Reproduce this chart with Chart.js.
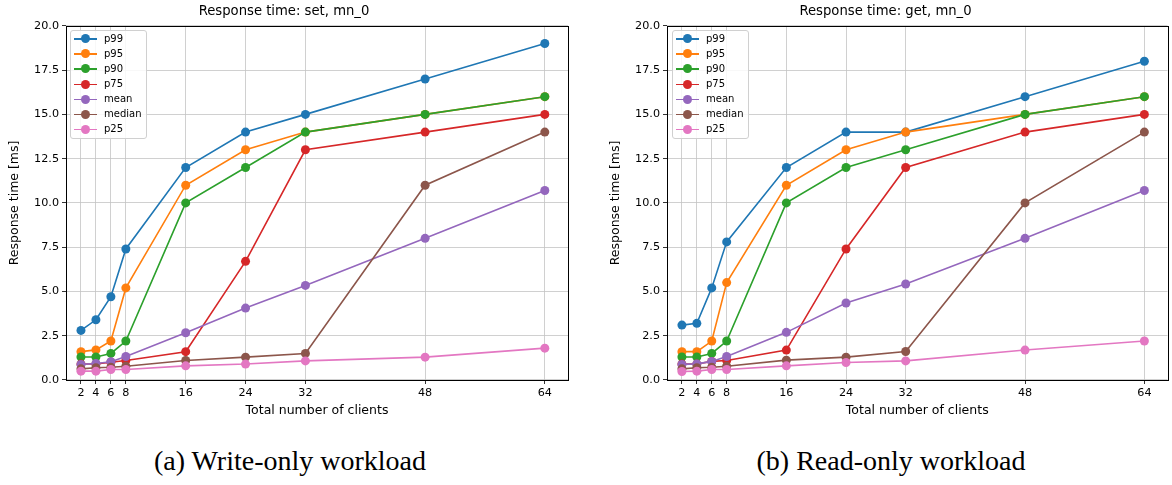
<!DOCTYPE html>
<html lang="en">
<head>
    <meta charset="UTF-8">
    <title>Response time</title>
    <script src="https://cdn.jsdelivr.net/npm/chart.js"></script>
    <style>
        body { margin: 0; background: #fff; width: 1172px; height: 485px; position: relative; overflow: hidden; }
        .panel { position: absolute; top: 0; height: 425px; }
        .legend { position: absolute; background: rgba(255,255,255,0.85); border: 1px solid #d0d0d0; border-radius: 3px;
                  font-family: "DejaVu Sans", sans-serif; font-size: 10px; color: #000; }
        .legend .item { position: absolute; left: 0; height: 14px; width: 100%; }
        .legend .line { position: absolute; left: 3px; width: 23px; height: 1.5px; top: 6.5px; }
        .legend .dot { position: absolute; left: 10px; width: 9px; height: 9px; border-radius: 50%; top: 2.5px; }
        .legend .lbl { position: absolute; left: 33px; top: 0; line-height: 14px; }
        .caption { position: absolute; top: 445px; font-family: "Liberation Serif", serif; font-size: 28px; color: #000;
                   transform: translateX(-50%); white-space: nowrap; }
    </style>
</head>
<body>
    <div class="panel" id="panel-set" style="left:0; width:580px;">
        <canvas id="chartSet" width="580" height="425"></canvas>
        <div class="legend" id="legend-set" style="left:70px; top:30px; width:75px; height:107px;"></div>
    </div>
    <div class="panel" id="panel-get" style="left:601px; width:571px;">
        <canvas id="chartGet" width="571" height="425"></canvas>
        <div class="legend" id="legend-get" style="left:71px; top:30px; width:75px; height:107px;"></div>
    </div>
    <div class="caption" style="left:290px;">(a) Write-only workload</div>
    <div class="caption" style="left:891px;">(b) Read-only workload</div>

    <script>
        // number of clients on the x axis
        const clients = [2, 4, 6, 8, 16, 24, 32, 48, 64];
        const seriesNames = ['p99', 'p95', 'p90', 'p75', 'mean', 'median', 'p25'];
        const seriesColors = ['#1f77b4', '#ff7f0e', '#2ca02c', '#d62728', '#9467bd', '#8c564b', '#e377c2'];

        // set (write-only), values in ms
        const setP99    = [2.8, 3.4, 4.7, 7.4, 12.0, 14.0, 15.0, 17.0, 19.0];
        const setP95    = [1.6, 1.7, 2.2, 5.2, 11.0, 13.0, 14.0, 15.0, 16.0];
        const setP90    = [1.3, 1.3, 1.5, 2.2, 10.0, 12.0, 14.0, 15.0, 16.0];
        const setP75    = [0.9, 0.9, 1.0, 1.1, 1.6, 6.7, 13.0, 14.0, 15.0];
        const setMean   = [0.88, 0.93, 1.03, 1.33, 2.67, 4.06, 5.34, 8.0, 10.7];
        const setMedian = [0.63, 0.69, 0.72, 0.78, 1.1, 1.29, 1.5, 11.0, 14.0];
        const setP25    = [0.5, 0.5, 0.59, 0.59, 0.8, 0.9, 1.08, 1.29, 1.8];

        // get (read-only), values in ms
        const getP99    = [3.1, 3.2, 5.2, 7.8, 12.0, 14.0, 14.0, 16.0, 18.0];
        const getP95    = [1.6, 1.6, 2.2, 5.5, 11.0, 13.0, 14.0, 15.0, 16.0];
        const getP90    = [1.3, 1.3, 1.5, 2.2, 10.0, 12.0, 13.0, 15.0, 16.0];
        const getP75    = [0.9, 0.9, 1.05, 1.1, 1.69, 7.4, 12.0, 14.0, 15.0];
        const getMean   = [0.88, 0.91, 1.05, 1.33, 2.69, 4.35, 5.42, 8.0, 10.7];
        const getMedian = [0.63, 0.69, 0.72, 0.78, 1.12, 1.29, 1.61, 10.0, 14.0];
        const getP25    = [0.48, 0.5, 0.59, 0.59, 0.8, 0.99, 1.08, 1.69, 2.2];

        const yTickStep = 2.5;

        const frame = {
            id: 'frame',
            afterDraw(chart) {
                const a = chart.chartArea, ctx = chart.ctx;
                ctx.save();
                ctx.strokeStyle = '#000';
                ctx.lineWidth = 1;
                ctx.strokeRect(Math.round(a.left) + 0.5, Math.round(a.top) + 0.5,
                               Math.round(a.right - a.left), Math.round(a.bottom - a.top));
                ctx.restore();
            }
        };

        function makeChart(canvasId, legendId, title, series, padRight) {
            const datasets = series.map((vals, i) => ({
                label: seriesNames[i],
                data: clients.map((c, j) => ({ x: c, y: vals[j] })),
                borderColor: seriesColors[i],
                backgroundColor: seriesColors[i],
                pointBackgroundColor: seriesColors[i],
                pointBorderWidth: 0,
                pointRadius: 4.5,
                borderWidth: 1.6,
                tension: 0,
                order: series.length - i
            }));

            new Chart(document.getElementById(canvasId), {
                type: 'line',
                data: { datasets: datasets },
                options: {
                    responsive: false,
                    animation: false,
                    layout: { padding: { left: 0, right: padRight, top: 0, bottom: 5 } },
                    plugins: {
                        legend: { display: false },
                        tooltip: { enabled: false },
                        title: {
                            display: true,
                            text: title,
                            color: '#000',
                            font: { family: 'DejaVu Sans', size: 13.2, weight: 'normal' },
                            padding: { top: 4, bottom: 6 }
                        }
                    },
                    scales: {
                        x: {
                            type: 'linear',
                            min: 0,
                            max: 67.1,
                            afterBuildTicks: s => { s.ticks = clients.map(v => ({ value: v })); },
                            afterFit: s => { s.height = 40; },
                            grid: { color: '#c4c4c4', lineWidth: 0.8, tickColor: '#000', tickLength: 4 },
                            border: { display: false },
                            ticks: { color: '#000', font: { family: 'DejaVu Sans', size: 11.2 }, padding: 2, maxRotation: 0, autoSkip: false },
                            title: {
                                display: true,
                                text: 'Total number of clients',
                                color: '#000',
                                font: { family: 'DejaVu Sans', size: 12.5 },
                                padding: { top: 0, bottom: 1.5 }
                            }
                        },
                        y: {
                            min: 0,
                            max: 20,
                            afterFit: s => { s.width = 66; },
                            grid: { color: '#c4c4c4', lineWidth: 0.8, tickColor: '#000', tickLength: 4 },
                            border: { display: false },
                            ticks: {
                                stepSize: yTickStep,
                                color: '#000',
                                font: { family: 'DejaVu Sans', size: 11.2 },
                                padding: 3,
                                callback: v => v.toFixed(1)
                            },
                            title: {
                                display: true,
                                text: 'Response time [ms]',
                                color: '#000',
                                font: { family: 'DejaVu Sans', size: 12.5 },
                                padding: { top: 7, bottom: 0 }
                            }
                        }
                    }
                },
                plugins: [frame]
            });

            const legend = document.getElementById(legendId);
            seriesNames.forEach((name, i) => {
                const item = document.createElement('div');
                item.className = 'item';
                item.style.top = (0.7 + 15.1 * i) + 'px';
                item.innerHTML = `<div class="line" style="background:${seriesColors[i]}"></div>` +
                                 `<div class="dot" style="background:${seriesColors[i]}"></div>` +
                                 `<div class="lbl">${name}</div>`;
                legend.appendChild(item);
            });
        }

        makeChart('chartSet', 'legend-set', 'Response time: set, mn_0',
                  [setP99, setP95, setP90, setP75, setMean, setMedian, setP25], 12);
        makeChart('chartGet', 'legend-get', 'Response time: get, mn_0',
                  [getP99, getP95, getP90, getP75, getMean, getMedian, getP25], 2);
    </script>
</body>
</html>
